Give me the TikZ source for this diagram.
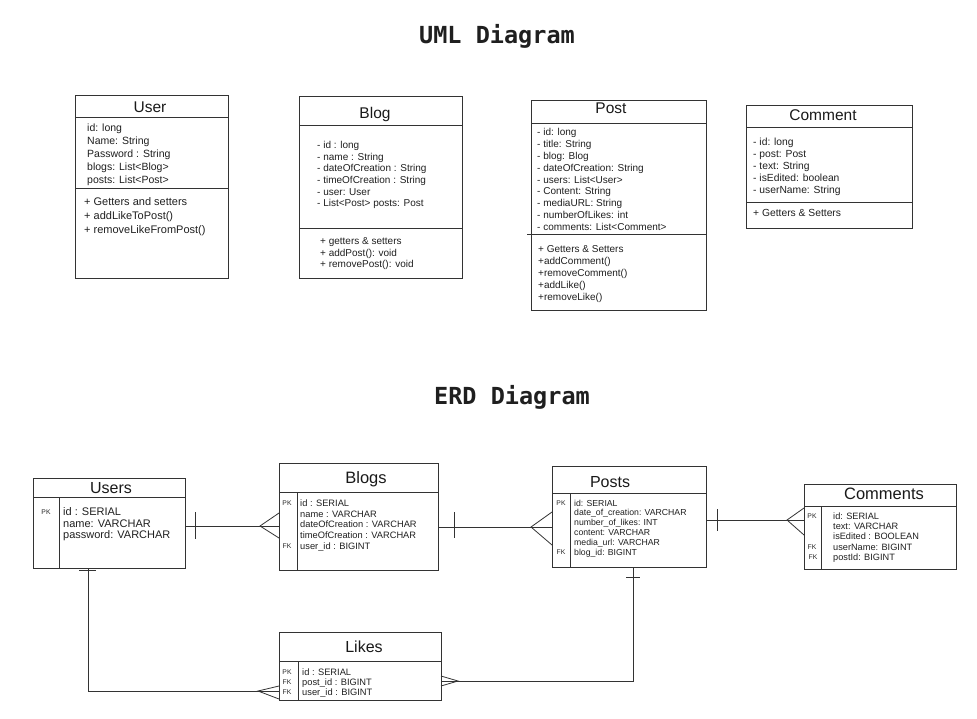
\documentclass[tikz,border=0pt]{standalone}
\usepackage{fontspec}
\setmainfont{Liberation Sans}
\newfontfamily\titlefont{DejaVu Sans Mono}
\begin{document}
\begin{tikzpicture}[x=1pt,y=-1pt,
  ln/.style={line width=0.8pt, draw=black!80},
  box/.style={ln, anchor=north west, inner sep=0pt, outer sep=0pt},
  txt/.style={anchor=base west, inner sep=0pt, text=black!88, font=\fontsize{#1}{#1}\selectfont, yshift={-0.36*#1pt}},
  ttl/.style={anchor=base, inner sep=0pt, text=black!90, font=\fontsize{#1}{#1}\selectfont, yshift={-0.36*#1pt}},
  keylab/.style={anchor=base, inner sep=0pt, text=black!85, font=\fontsize{6.8}{8}\selectfont, yshift={-2.45pt}},
  bigttl/.style={anchor=base, inner sep=0pt, text=black!88, font=\titlefont\bfseries\fontsize{23.5}{26}\selectfont, yshift={-8.3pt}}
]
\useasboundingbox (0,0) rectangle (977,718);

% ---------------- titles
\node[bigttl] (umltitle) at (497,35.5) {UML Diagram};
\node[bigttl] (erdtitle) at (512,396) {ERD Diagram};

% ================= UML
% User
\node[box, minimum width=153pt, minimum height=183pt] (user) at (75,95) {};
\draw[ln] (user.west |- 0,117) -- (user.east |- 0,117);
\draw[ln] (user.west |- 0,188) -- (user.east |- 0,188);
\node[ttl=15.5] (usert) at (150,107) {User};
\foreach \t [count=\i] in {id: long, Name: String, Password : String, blogs: List<Blog>, posts: List<Post>}
  \node[txt=10.5] (usera\i) at (87,{128+13*(\i-1)}) {\t};
\foreach \t [count=\i] in {+ Getters and setters, + addLikeToPost(), + removeLikeFromPost()}
  \node[txt=11] (userm\i) at (84,{202+14*(\i-1)}) {\t};

% Blog
\node[box, minimum width=163pt, minimum height=182pt] (blog) at (299,96) {};
\draw[ln] (blog.west |- 0,125) -- (blog.east |- 0,125);
\draw[ln] (blog.west |- 0,228) -- (blog.east |- 0,228);
\node[ttl=15.5] (blogt) at (375,113) {Blog};
\foreach \t [count=\i] in {- id : long, - name : String, - dateOfCreation : String, - timeOfCreation : String, - user: User, - List<Post> posts: Post}
  \node[txt=10] (bloga\i) at (317,{145+11.6*(\i-1)}) {\t};
\foreach \t [count=\i] in {+ getters \& setters, + addPost(): void, + removePost(): void}
  \node[txt=10] (blogm\i) at (320,{241+11.5*(\i-1)}) {\t};

% Post
\node[box, minimum width=175pt, minimum height=210pt] (post) at (531,100) {};
\draw[ln] (post.west |- 0,123) -- (post.east |- 0,123);
\draw[ln] ([xshift=-4pt]post.west |- 0,234) -- (post.east |- 0,234);
\node[ttl=15.5] (postt) at (611,108) {Post};
\foreach \t [count=\i] in {- id: long, - title: String, - blog: Blog, - dateOfCreation: String, - users: List<User>, - Content: String, - mediaURL: String, - numberOfLikes: int, - comments: List<Comment>}
  \node[txt=10] (posta\i) at (537,{132+11.85*(\i-1)}) {\t};
\foreach \t [count=\i] in {+ Getters \& Setters, +addComment(), +removeComment(), +addLike(), +removeLike()}
  \node[txt=10] (postm\i) at (538,{249+12*(\i-1)}) {\t};

% Comment
\node[box, minimum width=166pt, minimum height=123pt] (comment) at (746,105) {};
\draw[ln] (comment.west |- 0,127) -- (comment.east |- 0,127);
\draw[ln] (comment.west |- 0,202) -- (comment.east |- 0,202);
\node[ttl=15.5] (commentt) at (823,115) {Comment};
\foreach \t [count=\i] in {- id: long, - post: Post, - text: String, - isEdited: boolean, - userName: String}
  \node[txt=10.3] (commenta\i) at (753,{142+12*(\i-1)}) {\t};
\node[txt=10.3] (commentm1) at (753,213) {+ Getters \& Setters};

% ================= ERD
% Users
\node[box, minimum width=152pt, minimum height=90pt] (users) at (33,478) {};
\draw[ln] (users.west |- 0,497) -- (users.east |- 0,497);
\draw[ln] (59,497) -- (users.south -| 59,0);
\node[ttl=16] (userst) at (111,488) {Users};
\node[keylab] (usersk1) at (46,512) {PK};
\foreach \t [count=\i] in {id : SERIAL, name: VARCHAR, password: VARCHAR}
  \node[txt=11] (usersa\i) at (63,{512+11.5*(\i-1)}) {\t};

% Blogs
\node[box, minimum width=159pt, minimum height=107pt] (blogs) at (279,463) {};
\draw[ln] (blogs.west |- 0,492) -- (blogs.east |- 0,492);
\draw[ln] (297,492) -- (blogs.south -| 297,0);
\node[ttl=16.5] (blogst) at (366,478) {Blogs};
\node[keylab] (blogsk1) at (287,503) {PK};
\node[keylab] (blogsk2) at (287,546) {FK};
\foreach \t [count=\i] in {id : SERIAL, name : VARCHAR, dateOfCreation : VARCHAR, timeOfCreation : VARCHAR, user\_id : BIGINT}
  \node[txt=9.3] (blogsa\i) at (300,{503+10.75*(\i-1)}) {\t};

% Posts
\node[box, minimum width=154pt, minimum height=101pt] (posts) at (552,466) {};
\draw[ln] (posts.west |- 0,493) -- (posts.east |- 0,493);
\draw[ln] (570,493) -- (posts.south -| 570,0);
\node[ttl=16] (postst) at (610,482) {Posts};
\node[keylab] (postsk1) at (561,503) {PK};
\node[keylab] (postsk2) at (561,552) {FK};
\foreach \t [count=\i] in {id: SERIAL, date\_of\_creation: VARCHAR, number\_of\_likes: INT, content: VARCHAR, media\_url: VARCHAR, blog\_id: BIGINT}
  \node[txt=8.7] (postsa\i) at (574,{503+9.8*(\i-1)}) {\t};

% Comments
\node[box, minimum width=152pt, minimum height=85pt] (comments) at (804,484) {};
\draw[ln] (comments.west |- 0,506) -- (comments.east |- 0,506);
\draw[ln] (821,506) -- (comments.south -| 821,0);
\node[ttl=16.5] (commentst) at (884,494) {Comments};
\node[keylab] (commentsk1) at (812,516) {PK};
\node[keylab] (commentsk2) at (812,547) {FK};
\node[keylab] (commentsk3) at (813,557) {FK};
\foreach \t [count=\i] in {id: SERIAL, text: VARCHAR, isEdited : BOOLEAN, userName: BIGINT, postId: BIGINT}
  \node[txt=9.2] (commentsa\i) at (833,{516+10.3*(\i-1)}) {\t};

% Likes
\node[box, minimum width=162pt, minimum height=68pt] (likes) at (279,632) {};
\draw[ln] (likes.west |- 0,661) -- (likes.east |- 0,661);
\draw[ln] (298,661) -- (likes.south -| 298,0);
\node[ttl=16] (likest) at (364,647) {Likes};
\node[keylab] (likesk1) at (287,672) {PK};
\node[keylab] (likesk2) at (287,682) {FK};
\node[keylab] (likesk3) at (287,692) {FK};
\foreach \t [count=\i] in {id : SERIAL, post\_id : BIGINT, user\_id : BIGINT}
  \node[txt=9.3] (likesa\i) at (302,{672+10*(\i-1)}) {\t};

% ================= connectors
% Users -- Blogs
\draw[ln] (users.east |- 0,526) -- (blogs.west |- 0,526);
\draw[ln] (195,512) -- (195,539);
\draw[ln] (blogs.west |- 0,513) -- (260,526) -- (blogs.west |- 0,538);

% Blogs -- Posts
\draw[ln] (blogs.east |- 0,527) -- (posts.west |- 0,527);
\draw[ln] (454,512) -- (454,538);
\draw[ln] (posts.west |- 0,512) -- (531,527) -- (posts.west |- 0,545);

% Posts -- Comments
\draw[ln] (posts.east |- 0,520) -- (comments.west |- 0,520);
\draw[ln] (717,509) -- (717,531);
\draw[ln] (comments.west |- 0,508) -- (787,520) -- (comments.west |- 0,535);

% Users -- Likes
\draw[ln] (users.south -| 88,0) -- (88,691) -- (likes.west |- 0,691);
\draw[ln] (79,570) -- (96,570);
\draw[ln] (likes.west |- 0,686) -- (258,691) -- (likes.west |- 0,699);

% Posts -- Likes
\draw[ln] (posts.south -| 633,0) -- (633,681) -- (likes.east |- 0,681);
\draw[ln] (626,577) -- (640,577);
\draw[ln] (likes.east |- 0,676) -- (458,681) -- (likes.east |- 0,686);
\end{tikzpicture}
\end{document}
